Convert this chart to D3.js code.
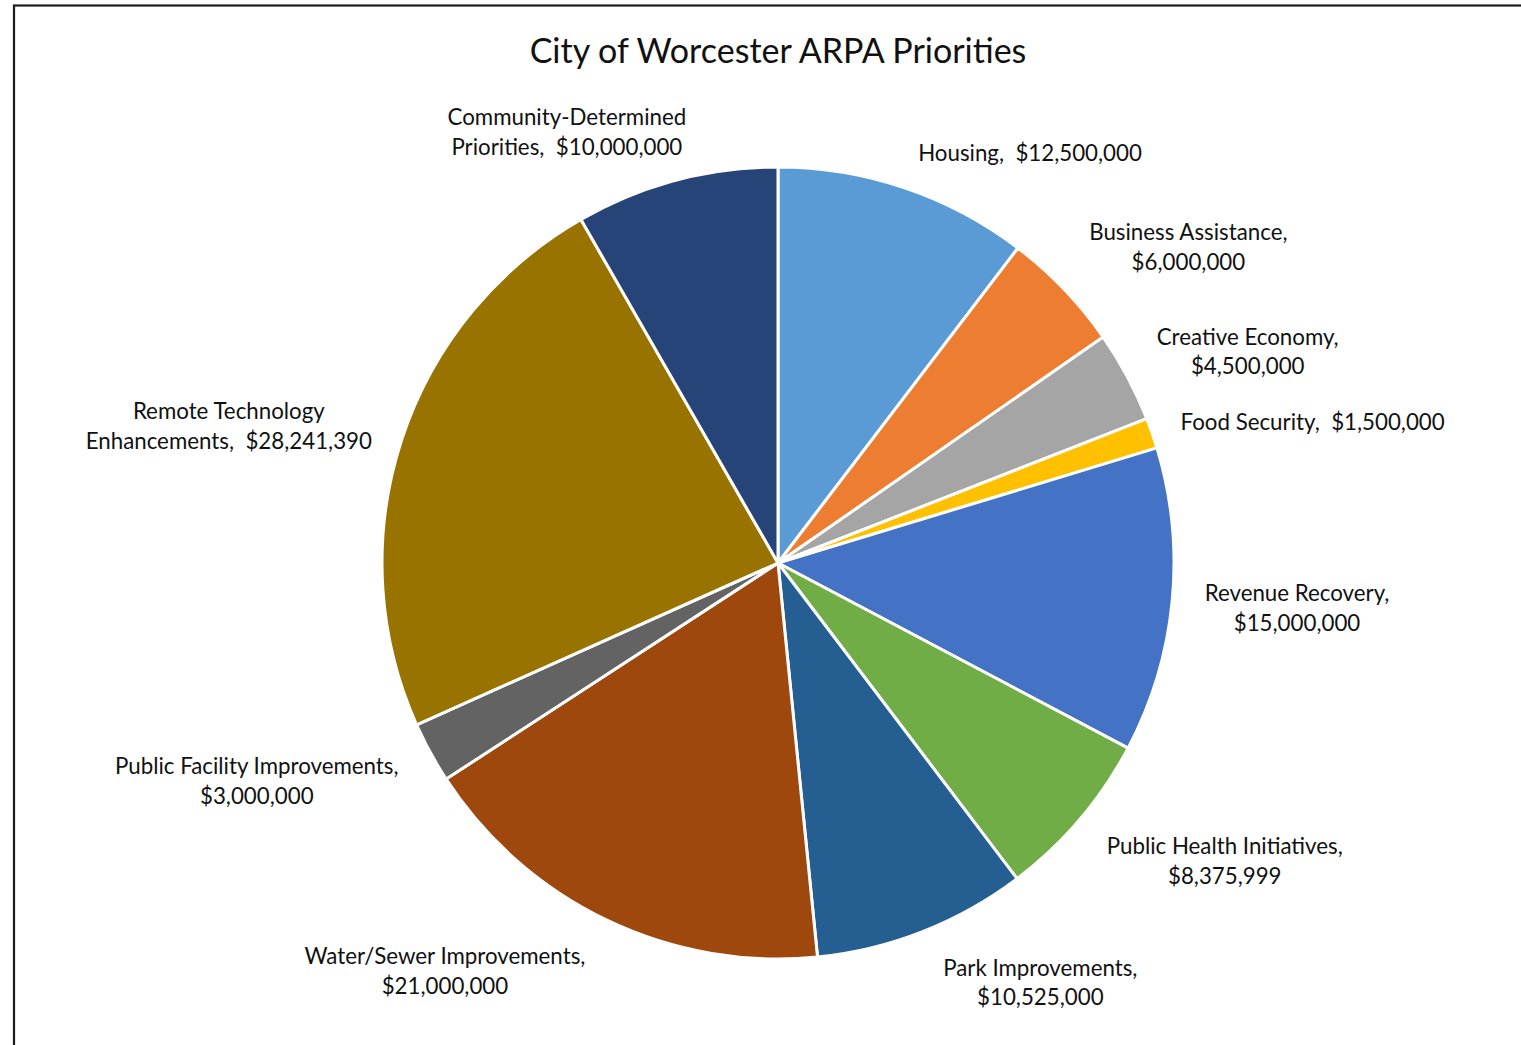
<!DOCTYPE html>
<html>
<head>
<meta charset="utf-8">
<script src="https://cdn.jsdelivr.net/npm/d3@7"></script>
<style>
  html, body { margin: 0; padding: 0; background: #fff; }
  svg { display: block; }
  text { font-family: Lato, "Open Sans", sans-serif; fill: #111; white-space: pre; }
</style>
</head>
<body>
<svg id="chart" width="1521" height="1045"></svg>
<script>
// ---- data ----
const categories = [
  "Housing", "Business Assistance", "Creative Economy", "Food Security",
  "Revenue Recovery", "Public Health Initiatives", "Park Improvements",
  "Water/Sewer Improvements", "Public Facility Improvements",
  "Remote Technology Enhancements", "Community-Determined Priorities"
];
const values = [
  12500000, 6000000, 4500000, 1500000, 15000000, 8375999,
  10525000, 21000000, 3000000, 28241390, 10000000
];
const colors = [
  "#5B9BD5", "#ED7D31", "#A5A5A5", "#FFC000", "#4472C4", "#70AD47",
  "#255E91", "#9E480E", "#636363", "#997300", "#264478"
];
// label line breaks (text lines, second line carries the value)
const labelLines = [
  ["Housing,  $12,500,000"],
  ["Business Assistance,", "$6,000,000"],
  ["Creative Economy,", "$4,500,000"],
  ["Food Security,  $1,500,000"],
  ["Revenue Recovery,", "$15,000,000"],
  ["Public Health Initiatives,", "$8,375,999"],
  ["Park Improvements,", "$10,525,000"],
  ["Water/Sewer Improvements,", "$21,000,000"],
  ["Public Facility Improvements,", "$3,000,000"],
  ["Remote Technology", "Enhancements,  $28,241,390"],
  ["Community-Determined", "Priorities,  $10,000,000"]
];
// label placement (polar: angle in degrees clockwise from top, distance from centre)
const labelAngle = [31.6, 52.4, 65.8, 75.2, 95.0, 123.7, 148.0, 219.2, 247.3, 284.0, 333.9];
const labelDist  = [481, 518, 515, 553, 521, 537, 495, 527, 565, 566, 480];

const title = "City of Worcester ARPA Priorities";

// ---- chart ----
const svg = d3.select("#chart");
const W = 1521, H = 1045;
const cx = 778, cy = 563, R = 396;

// outer border
svg.append("rect")
  .attr("x", 14).attr("y", 5.5)
  .attr("width", W + 10).attr("height", H + 10)
  .attr("fill", "none").attr("stroke", "#1b1b1b").attr("stroke-width", 2.2);

svg.append("text")
  .attr("x", cx).attr("y", 63)
  .attr("text-anchor", "middle")
  .style("font-size", "34px")
  .text(title);

const data = categories.map((c, i) => ({ cat: c, value: values[i], i }));
const pie = d3.pie().value(d => d.value).sort(null);
const arcs = pie(data);
const arc = d3.arc().innerRadius(0).outerRadius(R);

const g = svg.append("g").attr("transform", `translate(${cx},${cy})`);

g.selectAll("path.slice")
  .data(arcs)
  .join("path")
  .attr("class", "slice")
  .attr("d", arc)
  .attr("fill", d => colors[d.data.i])
  .attr("stroke", "#fff")
  .attr("stroke-width", 3)
  .attr("stroke-linejoin", "round");

const toRad = a => a * Math.PI / 180;
const lineH = 29.5;
g.selectAll("text.lbl")
  .data(arcs)
  .join("text")
  .attr("class", "lbl")
  .attr("text-anchor", "middle")
  .style("font-size", "22.3px")
  .each(function (d) {
    const i = d.data.i;
    const la = d3.arc().innerRadius(labelDist[i]).outerRadius(labelDist[i])
      .startAngle(toRad(labelAngle[i])).endAngle(toRad(labelAngle[i]));
    const [x, y] = la.centroid();
    const lines = labelLines[i];
    const t = d3.select(this);
    lines.forEach((ln, k) => {
      t.append("tspan")
        .attr("x", x)
        .attr("y", y + (k - (lines.length - 1) / 2) * lineH)
        .attr("dy", "0.35em")
        .text(ln);
    });
  });
</script>
</body>
</html>
